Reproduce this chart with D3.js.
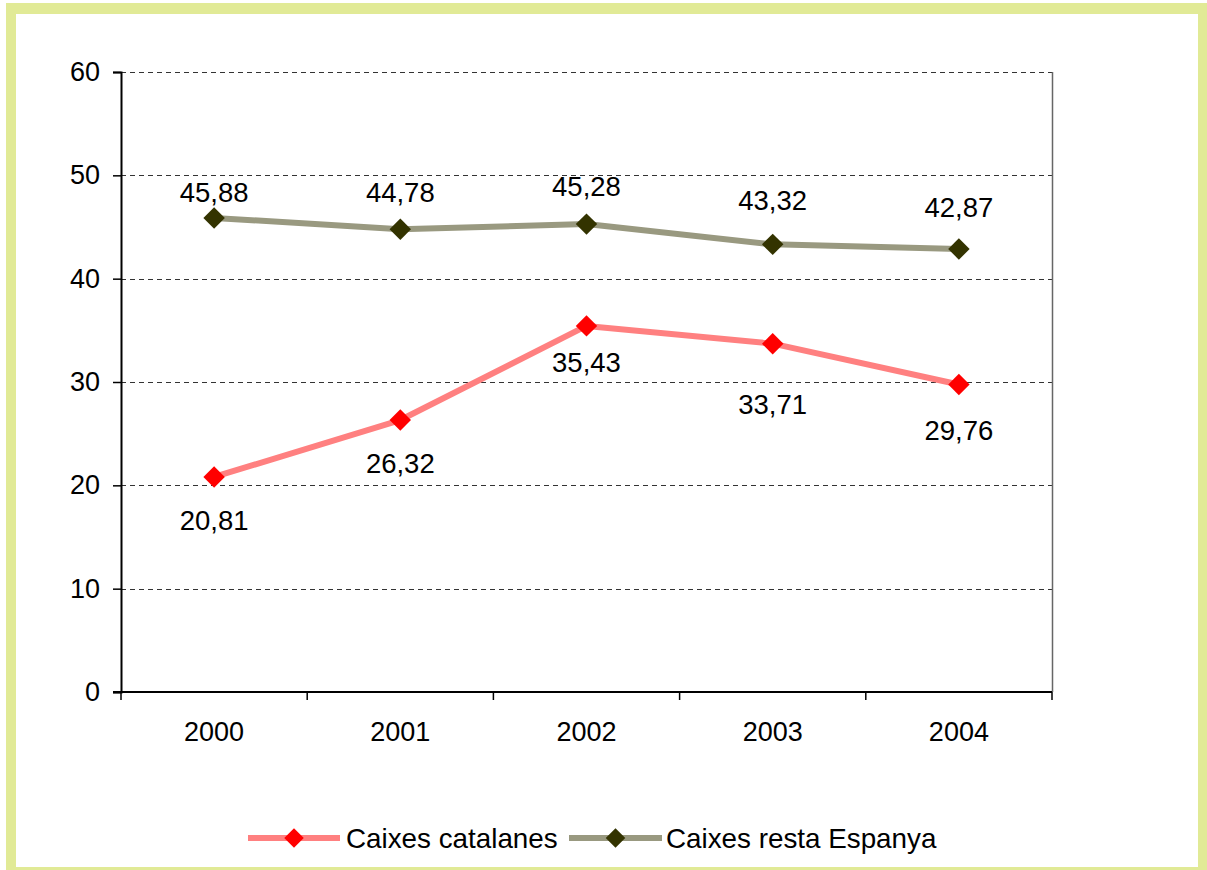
<!DOCTYPE html>
<html>
<head>
<meta charset="utf-8">
<script src="https://cdn.jsdelivr.net/npm/d3@7"></script>
<style>
  html, body { margin: 0; padding: 0; background: #fff; }
  svg { display: block; }
  text { font-family: "Liberation Sans", Arial, sans-serif; fill: #000; }
</style>
</head>
<body>
<svg id="chart" width="1207" height="870"></svg>
<script>
// ---- data ----
const years = ["2000", "2001", "2002", "2003", "2004"];
const catalanes = [20.81, 26.32, 35.43, 33.71, 29.76];
const restaEspanya = [45.88, 44.78, 45.28, 43.32, 42.87];
const seriesNames = ["Caixes catalanes", "Caixes resta Espanya"];
const yTicks = [0, 10, 20, 30, 40, 50, 60];

// label vertical offsets (layout only)
const catLabelDy = [53, 53, 46, 70, 56];
const restLabelDy = [-16, -27, -28, -34, -32];

const fmt = v => d3.format(".2f")(v).replace(".", ",");

const svg = d3.select("#chart");
const W = 1207, H = 870;

// frame
svg.append("rect").attr("x", 6).attr("y", 3).attr("width", W - 6).attr("height", H - 3).attr("fill", "#e1ea96");
svg.append("rect").attr("x", 16).attr("y", 14).attr("width", 1198 - 16).attr("height", 867 - 14).attr("fill", "#fff");

const pLeft = 121, pRight = 1052, pTop = 72, pBottom = 692;

const x = d3.scaleBand().domain(years).range([pLeft, pRight]).paddingInner(0).paddingOuter(0);
const y = d3.scaleLinear().domain([0, 60]).range([pBottom, pTop]);
const cx = d => x(d) + x.bandwidth() / 2;

// gridlines
svg.append("g").selectAll("line").data(yTicks.filter(t => t > 0)).join("line")
  .attr("x1", pLeft).attr("x2", pRight)
  .attr("y1", d => Math.round(y(d)) + 0.5).attr("y2", d => Math.round(y(d)) + 0.5)
  .attr("stroke", "#333").attr("stroke-width", 1).attr("stroke-dasharray", "5,4");

// right border
svg.append("line").attr("x1", pRight + 0.5).attr("x2", pRight + 0.5).attr("y1", pTop).attr("y2", pBottom)
  .attr("stroke", "#666").attr("stroke-width", 1.5);

// y axis
const yAxis = svg.append("g").attr("transform", `translate(${pLeft},0)`)
  .call(d3.axisLeft(y).tickValues(yTicks).tickSize(8).tickPadding(13).tickFormat(d3.format("d")));
yAxis.select(".domain").attr("stroke", "#000").attr("stroke-width", 2);
yAxis.selectAll(".tick line").attr("stroke", "#000").attr("stroke-width", 1.5);
yAxis.selectAll("text").style("font-size", "27px").style("font-family", "Liberation Sans, Arial, sans-serif").attr("fill", "#000");

// x axis
const xAxis = svg.append("g").attr("transform", `translate(0,${pBottom})`)
  .call(d3.axisBottom(x).tickSize(0).tickPadding(30));
xAxis.select(".domain").remove();
xAxis.selectAll("text").style("font-size", "27px").style("font-family", "Liberation Sans, Arial, sans-serif").attr("fill", "#000");
svg.append("line").attr("x1", pLeft - 8).attr("x2", pRight).attr("y1", pBottom).attr("y2", pBottom)
  .attr("stroke", "#000").attr("stroke-width", 2);
// x category boundary ticks
const bounds = years.map(d => x(d)).concat([pRight]);
svg.append("g").selectAll("line").data(bounds).join("line")
  .attr("x1", d => d).attr("x2", d => d).attr("y1", pBottom).attr("y2", pBottom + 8)
  .attr("stroke", "#000").attr("stroke-width", 1.5);

const line = d3.line().x(d => cx(d.year)).y(d => y(d.value));

function drawSeries(values, lineColor, markerColor, dys) {
  const data = years.map((yr, i) => ({ year: yr, value: values[i], dy: dys[i] }));
  svg.append("path").datum(data).attr("d", line)
    .attr("fill", "none").attr("stroke", lineColor).attr("stroke-width", 6).attr("stroke-linejoin", "round");
  svg.append("g").selectAll("path").data(data).join("path")
    .attr("d", d3.symbol().type(d3.symbolSquare).size(230))
    .attr("transform", d => `translate(${cx(d.year)},${y(d.value)}) rotate(45)`)
    .attr("fill", markerColor);
  svg.append("g").selectAll("text").data(data).join("text")
    .attr("x", d => cx(d.year)).attr("y", d => y(d.value) + d.dy)
    .attr("text-anchor", "middle").style("font-size", "27.5px")
    .text(d => fmt(d.value));
}

drawSeries(catalanes, "#ff8080", "#ff0000", catLabelDy);
drawSeries(restaEspanya, "#999980", "#333300", restLabelDy);

// legend
const legend = [
  { name: seriesNames[0], lc: "#ff8080", mc: "#ff0000", x0: 248, x1: 340, tx: 346 },
  { name: seriesNames[1], lc: "#999980", mc: "#333300", x0: 569, x1: 662, tx: 666 }
];
const ly = 838;
legend.forEach(l => {
  svg.append("line").attr("x1", l.x0).attr("x2", l.x1).attr("y1", ly).attr("y2", ly)
    .attr("stroke", l.lc).attr("stroke-width", 6);
  svg.append("path").attr("d", d3.symbol().type(d3.symbolSquare).size(190))
    .attr("transform", `translate(${(l.x0 + l.x1) / 2},${ly}) rotate(45)`).attr("fill", l.mc);
  svg.append("text").attr("x", l.tx).attr("y", ly + 10).style("font-size", "27.8px").text(l.name);
});
</script>
</body>
</html>
